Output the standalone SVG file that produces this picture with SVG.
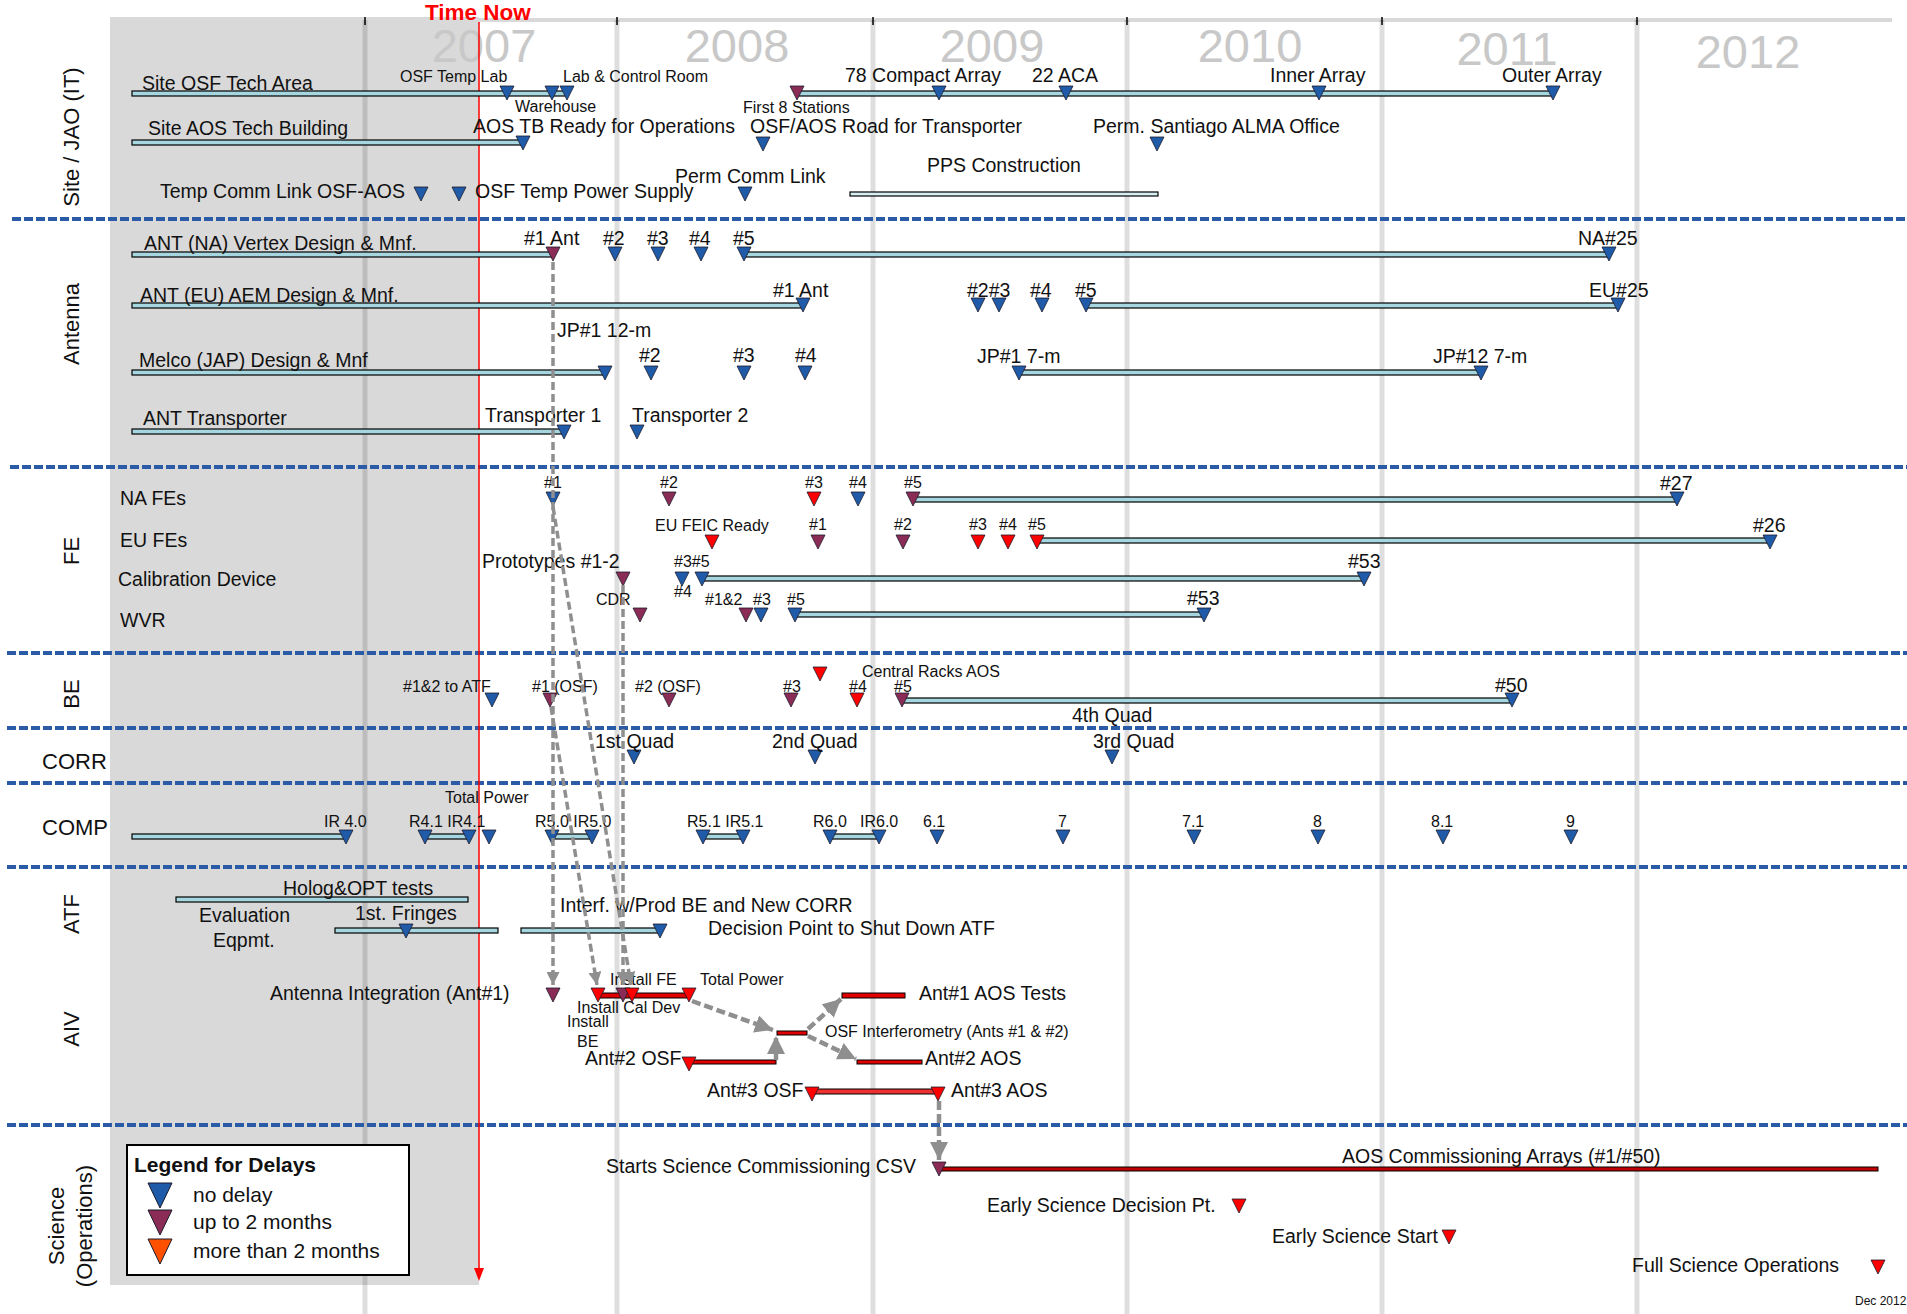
<svg xmlns="http://www.w3.org/2000/svg" xmlns:xlink="http://www.w3.org/1999/xlink" width="1907" height="1314" viewBox="0 0 1907 1314">
<style>
text{font-family:"Liberation Sans",Arial,sans-serif;fill:#111}
.m{font-size:19.5px}
.s{font-size:16px}
.sec{font-size:22px}
.yr{font-size:47px;fill:#c8c8c8;text-anchor:middle}
.c{text-anchor:middle}
.b{fill:#1f5ba8}
.p{fill:#8b2c57}
.r{fill:#ff0000}
.bar{fill:#a6d6e0;stroke:#000;stroke-width:1.2}
.rbar{fill:#e00000;stroke:#000;stroke-width:1}
.sep{stroke:#2b5aa6;stroke-width:4;stroke-dasharray:9 3;fill:none}
.yl{stroke:#000;stroke-opacity:0.13;stroke-width:5}
.con{stroke:#8f8f8f;stroke-width:3.5;stroke-dasharray:8 4;fill:none}
.con2{stroke:#8f8f8f;stroke-width:4.5;stroke-dasharray:9 4;fill:none}
</style>
<defs>
<path id="t" d="M-7,0H7L0,14Z" stroke="#1a1a2a" stroke-width="0.8"/>
<path id="T" d="M-12,0H12L0,25Z" stroke="#1a1a2a" stroke-width="1"/>
<marker id="ga" viewBox="0 0 10 10" refX="10" refY="5" markerWidth="13" markerHeight="13" markerUnits="userSpaceOnUse" orient="auto"><path d="M0,0L10,5L0,10Z" fill="#8f8f8f"/></marker>
<marker id="gb" viewBox="0 0 10 10" refX="10" refY="5" markerWidth="18" markerHeight="18" markerUnits="userSpaceOnUse" orient="auto"><path d="M0,0L10,5L0,10Z" fill="#8f8f8f"/></marker>
</defs>
<rect width="1907" height="1314" fill="#fff"/>
<g id="background">
<rect x="110" y="17" width="369" height="1268" fill="#d9d9d9"/>
<rect x="110" y="18" width="1782" height="4" fill="#d9d9d9"/>
<line class="yl" x1="365" y1="20" x2="365" y2="1314"/>
<line class="yl" x1="617" y1="20" x2="617" y2="1314"/>
<line class="yl" x1="873" y1="20" x2="873" y2="1314"/>
<line class="yl" x1="1127" y1="20" x2="1127" y2="1314"/>
<line class="yl" x1="1382" y1="20" x2="1382" y2="1314"/>
<line class="yl" x1="1637" y1="20" x2="1637" y2="1314"/>
<g stroke="#000" stroke-width="1.5">
<line x1="365" y1="17" x2="365" y2="25"/><line x1="617" y1="17" x2="617" y2="25"/><line x1="873" y1="17" x2="873" y2="25"/><line x1="1127" y1="17" x2="1127" y2="25"/><line x1="1382" y1="17" x2="1382" y2="25"/><line x1="1637" y1="17" x2="1637" y2="25"/>
</g>
<text class="yr" x="484" y="62">2007</text>
<text class="yr" x="737" y="62">2008</text>
<text class="yr" x="992" y="62">2009</text>
<text class="yr" x="1250" y="62">2010</text>
<text class="yr" x="1507" y="65">2011</text>
<text class="yr" x="1748" y="68">2012</text>
</g>
<g id="separators">
<line class="sep" x1="12" y1="219" x2="1907" y2="219"/>
<line class="sep" x1="10" y1="467" x2="1907" y2="467"/>
<line class="sep" x1="7" y1="653" x2="1907" y2="653"/>
<line class="sep" x1="7" y1="728" x2="1907" y2="728"/>
<line class="sep" x1="7" y1="783" x2="1907" y2="783"/>
<line class="sep" x1="7" y1="867" x2="1907" y2="867"/>
<line class="sep" x1="7" y1="1125" x2="1907" y2="1125"/>
</g>
<g id="section-labels">
<text class="sec c" transform="translate(79,137) rotate(-90)">Site / JAO (IT)</text>
<text class="sec c" transform="translate(79,324) rotate(-90)">Antenna</text>
<text class="sec c" transform="translate(79,551) rotate(-90)">FE</text>
<text class="sec c" transform="translate(79,694) rotate(-90)">BE</text>
<text class="sec" x="42" y="769">CORR</text>
<text class="sec" x="42" y="835">COMP</text>
<text class="sec c" transform="translate(79,914) rotate(-90)">ATF</text>
<text class="sec c" transform="translate(79,1029) rotate(-90)">AIV</text>
<text class="sec c" transform="translate(64,1226) rotate(-90)">Science</text>
<text class="sec c" transform="translate(92,1226) rotate(-90)">(Operations)</text>
</g>
<g id="time-now">
<text x="425" y="20" font-size="22.5" font-weight="bold" style="fill:#ff0000">Time Now</text>
<line x1="479" y1="22" x2="479" y2="1270" stroke="#ff0000" stroke-width="1.5"/>
<path d="M474,1268H484L479,1281Z" fill="#ff0000"/>
</g>
<g id="row-site-osf">
<rect class="bar" x="132" y="91" width="435" height="5"/>
<rect class="bar" x="797" y="91" width="756" height="5"/>
<use href="#t" class="b" x="507" y="86"/><use href="#t" class="b" x="552" y="86"/><use href="#t" class="b" x="567" y="86"/><use href="#t" class="p" x="797" y="86"/><use href="#t" class="b" x="939" y="86"/><use href="#t" class="b" x="1066" y="86"/><use href="#t" class="b" x="1319" y="86"/><use href="#t" class="b" x="1553" y="86"/>
<text class="m" x="142" y="90">Site OSF Tech Area</text>
<text class="s" x="400" y="82">OSF Temp Lab</text>
<text class="s" x="563" y="82">Lab &amp; Control Room</text>
<text class="s" x="515" y="112" font-size="15">Warehouse</text>
<text class="s" x="743" y="113">First 8 Stations</text>
<text class="m" x="845" y="82">78 Compact Array</text>
<text class="m" x="1032" y="82">22 ACA</text>
<text class="m" x="1270" y="82">Inner Array</text>
<text class="m" x="1502" y="82">Outer Array</text>
</g>
<g id="row-site-aos">
<rect class="bar" x="132" y="140" width="391" height="5"/>
<use href="#t" class="b" x="523" y="136"/><use href="#t" class="b" x="763" y="137"/><use href="#t" class="b" x="1157" y="137"/>
<text class="m" x="148" y="135">Site AOS Tech Building</text>
<text class="m" x="473" y="133">AOS TB Ready for Operations</text>
<text class="m" x="750" y="133">OSF/AOS Road for Transporter</text>
<text class="m" x="1093" y="133">Perm. Santiago ALMA Office</text>
</g>
<g id="row-comm">
<use href="#t" class="b" x="421" y="187"/><use href="#t" class="b" x="459" y="187"/><use href="#t" class="b" x="745" y="187"/>
<rect x="850" y="192" width="308" height="4" fill="#d8eef2" stroke="#000" stroke-width="1.2"/>
<text class="m" x="160" y="198">Temp Comm Link OSF-AOS</text>
<text class="m" x="475" y="198">OSF Temp Power Supply</text>
<text class="m" x="675" y="183">Perm Comm Link</text>
<text class="m" x="927" y="172">PPS Construction</text>
</g>
<g id="row-ant-na">
<rect class="bar" x="132" y="252" width="421" height="5"/>
<rect class="bar" x="744" y="252" width="865" height="5"/>
<use href="#t" class="p" x="553" y="247"/><use href="#t" class="b" x="615" y="247"/><use href="#t" class="b" x="658" y="247"/><use href="#t" class="b" x="701" y="247"/><use href="#t" class="b" x="744" y="247"/><use href="#t" class="b" x="1609" y="247"/>
<text class="m" x="144" y="250">ANT (NA) Vertex Design &amp; Mnf.</text>
<text class="m" x="524" y="245">#1 Ant</text>
<text class="m" x="603" y="245">#2</text><text class="m" x="647" y="245">#3</text><text class="m" x="689" y="245">#4</text><text class="m" x="733" y="245">#5</text>
<text class="m" x="1578" y="245">NA#25</text>
</g>
<g id="row-ant-eu">
<rect class="bar" x="132" y="303" width="671" height="5"/>
<rect class="bar" x="1086" y="303" width="532" height="5"/>
<use href="#t" class="b" x="803" y="298"/><use href="#t" class="b" x="978" y="298"/><use href="#t" class="b" x="999" y="298"/><use href="#t" class="b" x="1042" y="298"/><use href="#t" class="b" x="1086" y="298"/><use href="#t" class="b" x="1618" y="298"/>
<text class="m" x="140" y="302">ANT (EU) AEM Design &amp; Mnf.</text>
<text class="m" x="773" y="297">#1 Ant</text>
<text class="m" x="967" y="297">#2#3</text><text class="m" x="1030" y="297">#4</text><text class="m" x="1075" y="297">#5</text>
<text class="m" x="1589" y="297">EU#25</text>
</g>
<g id="row-ant-jap">
<rect class="bar" x="132" y="370" width="473" height="5"/>
<rect class="bar" x="1019" y="370" width="462" height="5"/>
<use href="#t" class="b" x="605" y="366"/><use href="#t" class="b" x="651" y="366"/><use href="#t" class="b" x="744" y="366"/><use href="#t" class="b" x="805" y="366"/><use href="#t" class="b" x="1019" y="366"/><use href="#t" class="b" x="1481" y="366"/>
<text class="m" x="139" y="367">Melco (JAP) Design &amp; Mnf</text>
<text class="m" x="557" y="337">JP#1 12-m</text>
<text class="m" x="639" y="362">#2</text><text class="m" x="733" y="362">#3</text><text class="m" x="795" y="362">#4</text>
<text class="m" x="977" y="363">JP#1 7-m</text>
<text class="m" x="1433" y="363">JP#12 7-m</text>
</g>
<g id="row-ant-transporter">
<rect class="bar" x="132" y="429" width="432" height="5"/>
<use href="#t" class="b" x="564" y="425"/><use href="#t" class="b" x="637" y="425"/>
<text class="m" x="143" y="425">ANT Transporter</text>
<text class="m" x="485" y="422">Transporter 1</text>
<text class="m" x="632" y="422">Transporter 2</text>
</g>
<g id="row-fe">
<text class="m" x="120" y="505">NA FEs</text>
<text class="m" x="120" y="547">EU FEs</text>
<text class="m" x="118" y="586">Calibration Device</text>
<text class="m" x="120" y="627">WVR</text>
<rect class="bar" x="913" y="497" width="764" height="5"/>
<use href="#t" class="b" x="553" y="492"/><use href="#t" class="p" x="669" y="492"/><use href="#t" class="r" x="814" y="492"/><use href="#t" class="b" x="858" y="492"/><use href="#t" class="p" x="913" y="492"/><use href="#t" class="b" x="1677" y="492"/>
<text class="s c" x="553" y="488">#1</text><text class="s c" x="669" y="488">#2</text><text class="s c" x="814" y="488">#3</text><text class="s c" x="858" y="488">#4</text><text class="s c" x="913" y="488">#5</text>
<text class="m" x="1660" y="490">#27</text>
<rect class="bar" x="1037" y="538" width="733" height="5"/>
<use href="#t" class="r" x="712" y="535"/><use href="#t" class="p" x="818" y="535"/><use href="#t" class="p" x="903" y="535"/><use href="#t" class="r" x="978" y="535"/><use href="#t" class="r" x="1008" y="535"/><use href="#t" class="r" x="1037" y="535"/><use href="#t" class="b" x="1770" y="535"/>
<text class="s" x="655" y="531">EU FEIC Ready</text>
<text class="s c" x="818" y="530">#1</text><text class="s c" x="903" y="530">#2</text><text class="s c" x="978" y="530">#3</text><text class="s c" x="1008" y="530">#4</text><text class="s c" x="1037" y="530">#5</text>
<text class="m" x="1753" y="532">#26</text>
<rect class="bar" x="702" y="576" width="662" height="5"/>
<use href="#t" class="p" x="623" y="572"/><use href="#t" class="b" x="682" y="572"/><use href="#t" class="b" x="702" y="572"/><use href="#t" class="b" x="1364" y="572"/>
<text class="m" x="482" y="568">Prototypes #1-2</text>
<text class="s" x="674" y="567">#3#5</text>
<text class="s" x="674" y="597">#4</text>
<text class="m" x="1348" y="568">#53</text>
<rect class="bar" x="795" y="612" width="409" height="5"/>
<use href="#t" class="p" x="640" y="608"/><use href="#t" class="p" x="746" y="608"/><use href="#t" class="b" x="761" y="608"/><use href="#t" class="b" x="795" y="608"/><use href="#t" class="b" x="1204" y="608"/>
<text class="s" x="596" y="605">CDR</text>
<text class="s" x="705" y="605">#1&amp;2</text>
<text class="s" x="753" y="605">#3</text>
<text class="s" x="787" y="605">#5</text>
<text class="m" x="1187" y="605">#53</text>
</g>
<g id="row-be">
<rect class="bar" x="902" y="698" width="610" height="5"/>
<use href="#t" class="b" x="492" y="693"/><use href="#t" class="p" x="550" y="693"/><use href="#t" class="p" x="669" y="693"/><use href="#t" class="p" x="791" y="693"/><use href="#t" class="r" x="857" y="693"/><use href="#t" class="p" x="902" y="693"/><use href="#t" class="b" x="1512" y="693"/><use href="#t" class="r" x="820" y="667"/>
<text class="s" x="403" y="692">#1&amp;2 to ATF</text>
<text class="s" x="532" y="692">#1 (OSF)</text>
<text class="s" x="635" y="692">#2 (OSF)</text>
<text class="s" x="783" y="692">#3</text>
<text class="s" x="849" y="692">#4</text>
<text class="s" x="894" y="692">#5</text>
<text class="s" x="862" y="677" font-size="15">Central Racks AOS</text>
<text class="m" x="1495" y="692">#50</text>
<text class="m" x="1072" y="722">4th Quad</text>
</g>
<g id="row-corr">
<use href="#t" class="b" x="634" y="750"/><use href="#t" class="b" x="815" y="750"/><use href="#t" class="b" x="1112" y="750"/>
<text class="m" x="595" y="748">1st Quad</text>
<text class="m" x="772" y="748">2nd Quad</text>
<text class="m" x="1093" y="748">3rd Quad</text>
</g>
<g id="row-comp">
<rect class="bar" x="132" y="834" width="214" height="5"/>
<rect class="bar" x="425" y="834" width="44" height="5"/>
<rect class="bar" x="552" y="834" width="40" height="5"/>
<rect class="bar" x="703" y="834" width="40" height="5"/>
<rect class="bar" x="830" y="834" width="49" height="5"/>
<use href="#t" class="b" x="346" y="830"/><use href="#t" class="b" x="425" y="830"/><use href="#t" class="b" x="469" y="830"/><use href="#t" class="b" x="489" y="830"/><use href="#t" class="b" x="552" y="830"/><use href="#t" class="b" x="592" y="830"/><use href="#t" class="b" x="703" y="830"/><use href="#t" class="b" x="743" y="830"/><use href="#t" class="b" x="830" y="830"/><use href="#t" class="b" x="879" y="830"/><use href="#t" class="b" x="937" y="830"/><use href="#t" class="b" x="1063" y="830"/><use href="#t" class="b" x="1194" y="830"/><use href="#t" class="b" x="1318" y="830"/><use href="#t" class="b" x="1443" y="830"/><use href="#t" class="b" x="1571" y="830"/>
<text class="s" x="324" y="827">IR 4.0</text>
<text class="s" x="409" y="827">R4.1 IR4.1</text>
<text class="s" x="445" y="803">Total Power</text>
<text class="s" x="535" y="827">R5.0 IR5.0</text>
<text class="s" x="687" y="827">R5.1 IR5.1</text>
<text class="s" x="813" y="827">R6.0</text><text class="s" x="860" y="827">IR6.0</text>
<text class="s" x="923" y="827">6.1</text>
<text class="s" x="1058" y="827">7</text>
<text class="s" x="1182" y="827">7.1</text>
<text class="s" x="1313" y="827">8</text>
<text class="s" x="1431" y="827">8.1</text>
<text class="s" x="1566" y="827">9</text>
</g>
<g id="row-atf">
<rect class="bar" x="176" y="897" width="292" height="5"/>
<rect class="bar" x="335" y="928" width="163" height="5"/>
<rect class="bar" x="521" y="928" width="139" height="5"/>
<use href="#t" class="b" x="406" y="924"/><use href="#t" class="b" x="660" y="924"/>
<text class="m" x="283" y="895">Holog&amp;OPT tests</text>
<text class="m" x="199" y="922">Evaluation</text>
<text class="m" x="213" y="947">Eqpmt.</text>
<text class="m" x="355" y="920">1st. Fringes</text>
<text class="m" x="560" y="912">Interf. w/Prod BE and New CORR</text>
<text class="m" x="708" y="935">Decision Point to Shut Down ATF</text>
</g>
<g id="row-aiv">
<text class="m" x="270" y="1000">Antenna Integration (Ant#1)</text>
<rect class="rbar" x="598" y="993" width="91" height="5"/>
<rect class="rbar" x="842" y="993" width="63" height="5"/>
<rect class="rbar" x="777" y="1031" width="30" height="4"/>
<rect class="rbar" x="689" y="1060" width="87" height="4"/>
<rect class="rbar" x="857" y="1060" width="65" height="4"/>
<rect x="812" y="1089" width="126" height="5" fill="#ee3030" stroke="#000" stroke-width="1"/>
<use href="#t" class="p" x="553" y="988"/><use href="#t" class="r" x="598" y="988"/><use href="#t" class="p" x="623" y="988"/><use href="#t" class="r" x="632" y="988"/><use href="#t" class="r" x="689" y="988"/>
<use href="#t" class="r" x="689" y="1057"/><use href="#t" class="r" x="812" y="1087"/><use href="#t" class="r" x="938" y="1087"/>
<text class="s" x="610" y="985">Install FE</text>
<text class="s" x="700" y="985">Total Power</text>
<text class="s" x="577" y="1013" font-size="15">Install Cal Dev</text>
<text class="s" x="567" y="1027">Install</text>
<text class="s" x="577" y="1047">BE</text>
<text class="m" x="919" y="1000">Ant#1 AOS Tests</text>
<text class="s" x="825" y="1037">OSF Interferometry (Ants #1 &amp; #2)</text>
<text class="m" x="585" y="1065">Ant#2 OSF</text>
<text class="m" x="925" y="1065">Ant#2 AOS</text>
<text class="m" x="707" y="1097">Ant#3 OSF</text>
<text class="m" x="951" y="1097">Ant#3 AOS</text>
</g>
<g id="row-science">
<rect x="939" y="1167" width="939" height="4" fill="#c00000" stroke="#000" stroke-width="1"/>
<use href="#t" class="p" x="939" y="1162"/>
<use href="#t" class="r" x="1239" y="1199"/><use href="#t" class="r" x="1449" y="1230"/><use href="#t" class="r" x="1878" y="1260"/>
<text class="m" x="606" y="1173">Starts Science Commissioning CSV</text>
<text class="m" x="1342" y="1163">AOS Commissioning Arrays (#1/#50)</text>
<text class="m" x="987" y="1212">Early Science Decision Pt.</text>
<text class="m" x="1272" y="1243">Early Science Start</text>
<text class="m" x="1632" y="1272">Full Science Operations</text>
<text x="1855" y="1305" font-size="12">Dec 2012</text>
</g>
<g id="legend">
<rect x="127" y="1145" width="282" height="130" fill="#fff" stroke="#000" stroke-width="2"/>
<text x="134" y="1172" font-size="21" font-weight="bold">Legend for Delays</text>
<use href="#T" class="b" x="160" y="1183"/>
<use href="#T" class="p" x="160" y="1210"/>
<use href="#T" x="160" y="1239" style="fill:#ff5000"/>
<text x="193" y="1202" font-size="21">no delay</text>
<text x="193" y="1229" font-size="21">up to 2 months</text>
<text x="193" y="1258" font-size="21">more than 2 months</text>
</g>
<g id="connectors">
<path class="con" d="M553,262V985" marker-end="url(#ga)"/>
<path class="con" d="M553,507L631,985" marker-end="url(#ga)"/>
<path class="con" d="M623,585V985" marker-end="url(#ga)"/>
<path class="con" d="M551,707L597,985" marker-end="url(#ga)"/>
<path class="con2" d="M692,1001L773,1030" marker-end="url(#gb)"/>
<path class="con2" d="M776,1060V1036" marker-end="url(#gb)"/>
<path class="con2" d="M808,1029L841,999" marker-end="url(#gb)"/>
<path class="con2" d="M808,1036L856,1059" marker-end="url(#gb)"/>
<path class="con2" d="M939,1101V1160" marker-end="url(#gb)"/>
</g>
</svg>
